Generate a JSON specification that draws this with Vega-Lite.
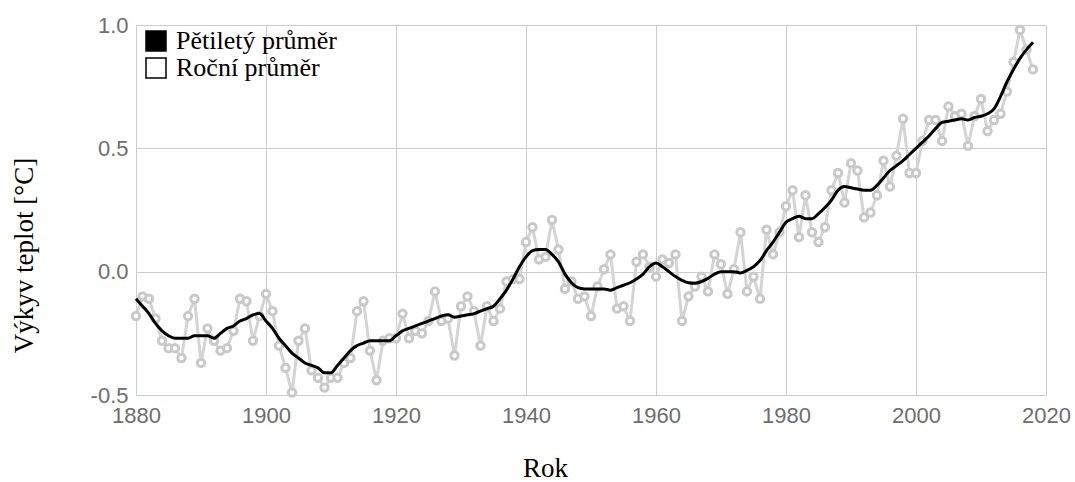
{
  "$schema": "https://vega.github.io/schema/vega-lite/v6.json",
  "autosize": {"type": "none"},
  "width": 910,
  "height": 370,
  "padding": {"left": 136, "top": 25, "right": 29, "bottom": 87},
  "background": "#ffffff",
  "config": {
    "view": {"stroke": null},
    "axis": {
      "grid": true,
      "gridColor": "#cccccc",
      "gridWidth": 1,
      "domain": false,
      "ticks": false,
      "labelFont": "Liberation Sans",
      "labelFontSize": 22,
      "labelColor": "#6e6e6e",
      "titleFont": "Liberation Serif",
      "titleFontSize": 27,
      "titleFontWeight": "normal",
      "titleColor": "#000000"
    }
  },
  "datasets": {
    "annual": [
      {"year": 1880, "value": -0.18}, {"year": 1881, "value": -0.10}, {"year": 1882, "value": -0.11}, {"year": 1883, "value": -0.19},
      {"year": 1884, "value": -0.28}, {"year": 1885, "value": -0.31}, {"year": 1886, "value": -0.31}, {"year": 1887, "value": -0.35},
      {"year": 1888, "value": -0.18}, {"year": 1889, "value": -0.11}, {"year": 1890, "value": -0.37}, {"year": 1891, "value": -0.23},
      {"year": 1892, "value": -0.28}, {"year": 1893, "value": -0.32}, {"year": 1894, "value": -0.31}, {"year": 1895, "value": -0.24},
      {"year": 1896, "value": -0.11}, {"year": 1897, "value": -0.12}, {"year": 1898, "value": -0.28}, {"year": 1899, "value": -0.18},
      {"year": 1900, "value": -0.09}, {"year": 1901, "value": -0.16}, {"year": 1902, "value": -0.30}, {"year": 1903, "value": -0.39},
      {"year": 1904, "value": -0.49}, {"year": 1905, "value": -0.28}, {"year": 1906, "value": -0.23}, {"year": 1907, "value": -0.40},
      {"year": 1908, "value": -0.43}, {"year": 1909, "value": -0.47}, {"year": 1910, "value": -0.43}, {"year": 1911, "value": -0.43},
      {"year": 1912, "value": -0.37}, {"year": 1913, "value": -0.35}, {"year": 1914, "value": -0.16}, {"year": 1915, "value": -0.12},
      {"year": 1916, "value": -0.32}, {"year": 1917, "value": -0.44}, {"year": 1918, "value": -0.28}, {"year": 1919, "value": -0.27},
      {"year": 1920, "value": -0.27}, {"year": 1921, "value": -0.17}, {"year": 1922, "value": -0.27}, {"year": 1923, "value": -0.24},
      {"year": 1924, "value": -0.25}, {"year": 1925, "value": -0.20}, {"year": 1926, "value": -0.08}, {"year": 1927, "value": -0.20},
      {"year": 1928, "value": -0.19}, {"year": 1929, "value": -0.34}, {"year": 1930, "value": -0.14}, {"year": 1931, "value": -0.10},
      {"year": 1932, "value": -0.16}, {"year": 1933, "value": -0.30}, {"year": 1934, "value": -0.14}, {"year": 1935, "value": -0.20},
      {"year": 1936, "value": -0.15}, {"year": 1937, "value": -0.04}, {"year": 1938, "value": -0.03}, {"year": 1939, "value": -0.03},
      {"year": 1940, "value": 0.12}, {"year": 1941, "value": 0.18}, {"year": 1942, "value": 0.05}, {"year": 1943, "value": 0.06},
      {"year": 1944, "value": 0.21}, {"year": 1945, "value": 0.09}, {"year": 1946, "value": -0.07}, {"year": 1947, "value": -0.04},
      {"year": 1948, "value": -0.11}, {"year": 1949, "value": -0.10}, {"year": 1950, "value": -0.18}, {"year": 1951, "value": -0.06},
      {"year": 1952, "value": 0.01}, {"year": 1953, "value": 0.07}, {"year": 1954, "value": -0.15}, {"year": 1955, "value": -0.14},
      {"year": 1956, "value": -0.20}, {"year": 1957, "value": 0.04}, {"year": 1958, "value": 0.07}, {"year": 1959, "value": 0.02},
      {"year": 1960, "value": -0.02}, {"year": 1961, "value": 0.05}, {"year": 1962, "value": 0.035}, {"year": 1963, "value": 0.07},
      {"year": 1964, "value": -0.20}, {"year": 1965, "value": -0.10}, {"year": 1966, "value": -0.06}, {"year": 1967, "value": -0.02},
      {"year": 1968, "value": -0.08}, {"year": 1969, "value": 0.07}, {"year": 1970, "value": 0.03}, {"year": 1971, "value": -0.09},
      {"year": 1972, "value": 0.01}, {"year": 1973, "value": 0.16}, {"year": 1974, "value": -0.08}, {"year": 1975, "value": -0.02},
      {"year": 1976, "value": -0.11}, {"year": 1977, "value": 0.17}, {"year": 1978, "value": 0.07}, {"year": 1979, "value": 0.16},
      {"year": 1980, "value": 0.265}, {"year": 1981, "value": 0.33}, {"year": 1982, "value": 0.14}, {"year": 1983, "value": 0.31},
      {"year": 1984, "value": 0.16}, {"year": 1985, "value": 0.12}, {"year": 1986, "value": 0.18}, {"year": 1987, "value": 0.33},
      {"year": 1988, "value": 0.40}, {"year": 1989, "value": 0.28}, {"year": 1990, "value": 0.44}, {"year": 1991, "value": 0.41},
      {"year": 1992, "value": 0.22}, {"year": 1993, "value": 0.24}, {"year": 1994, "value": 0.31}, {"year": 1995, "value": 0.45},
      {"year": 1996, "value": 0.345}, {"year": 1997, "value": 0.47}, {"year": 1998, "value": 0.62}, {"year": 1999, "value": 0.40},
      {"year": 2000, "value": 0.40}, {"year": 2001, "value": 0.53}, {"year": 2002, "value": 0.615}, {"year": 2003, "value": 0.615},
      {"year": 2004, "value": 0.53}, {"year": 2005, "value": 0.67}, {"year": 2006, "value": 0.63}, {"year": 2007, "value": 0.64},
      {"year": 2008, "value": 0.51}, {"year": 2009, "value": 0.63}, {"year": 2010, "value": 0.70}, {"year": 2011, "value": 0.57},
      {"year": 2012, "value": 0.615}, {"year": 2013, "value": 0.64}, {"year": 2014, "value": 0.73}, {"year": 2015, "value": 0.85},
      {"year": 2016, "value": 0.98}, {"year": 2017, "value": 0.90}, {"year": 2018, "value": 0.82}
    ],
    "smooth": [
      {"year": 1880, "value": -0.11}, {"year": 1881, "value": -0.14}, {"year": 1882, "value": -0.17}, {"year": 1883, "value": -0.21},
      {"year": 1884, "value": -0.24}, {"year": 1885, "value": -0.26}, {"year": 1886, "value": -0.27}, {"year": 1887, "value": -0.27},
      {"year": 1888, "value": -0.27}, {"year": 1889, "value": -0.26}, {"year": 1890, "value": -0.26}, {"year": 1891, "value": -0.26},
      {"year": 1892, "value": -0.27}, {"year": 1893, "value": -0.25}, {"year": 1894, "value": -0.23}, {"year": 1895, "value": -0.22},
      {"year": 1896, "value": -0.20}, {"year": 1897, "value": -0.19}, {"year": 1898, "value": -0.175}, {"year": 1899, "value": -0.17},
      {"year": 1900, "value": -0.20}, {"year": 1901, "value": -0.23}, {"year": 1902, "value": -0.27}, {"year": 1903, "value": -0.30},
      {"year": 1904, "value": -0.33}, {"year": 1905, "value": -0.35}, {"year": 1906, "value": -0.37}, {"year": 1907, "value": -0.38},
      {"year": 1908, "value": -0.39}, {"year": 1909, "value": -0.41}, {"year": 1910, "value": -0.41}, {"year": 1911, "value": -0.38},
      {"year": 1912, "value": -0.35}, {"year": 1913, "value": -0.32}, {"year": 1914, "value": -0.30}, {"year": 1915, "value": -0.29},
      {"year": 1916, "value": -0.28}, {"year": 1917, "value": -0.28}, {"year": 1918, "value": -0.28}, {"year": 1919, "value": -0.28},
      {"year": 1920, "value": -0.26}, {"year": 1921, "value": -0.24}, {"year": 1922, "value": -0.23}, {"year": 1923, "value": -0.22},
      {"year": 1924, "value": -0.21}, {"year": 1925, "value": -0.20}, {"year": 1926, "value": -0.19}, {"year": 1927, "value": -0.18},
      {"year": 1928, "value": -0.175}, {"year": 1929, "value": -0.185}, {"year": 1930, "value": -0.18}, {"year": 1931, "value": -0.175},
      {"year": 1932, "value": -0.17}, {"year": 1933, "value": -0.16}, {"year": 1934, "value": -0.15}, {"year": 1935, "value": -0.14},
      {"year": 1936, "value": -0.11}, {"year": 1937, "value": -0.075}, {"year": 1938, "value": -0.03}, {"year": 1939, "value": 0.02},
      {"year": 1940, "value": 0.06}, {"year": 1941, "value": 0.085}, {"year": 1942, "value": 0.09}, {"year": 1943, "value": 0.09},
      {"year": 1944, "value": 0.07}, {"year": 1945, "value": 0.04}, {"year": 1946, "value": -0.01}, {"year": 1947, "value": -0.045},
      {"year": 1948, "value": -0.065}, {"year": 1949, "value": -0.07}, {"year": 1950, "value": -0.07}, {"year": 1951, "value": -0.07},
      {"year": 1952, "value": -0.07}, {"year": 1953, "value": -0.075}, {"year": 1954, "value": -0.065}, {"year": 1955, "value": -0.055},
      {"year": 1956, "value": -0.045}, {"year": 1957, "value": -0.03}, {"year": 1958, "value": -0.01}, {"year": 1959, "value": 0.02},
      {"year": 1960, "value": 0.035}, {"year": 1961, "value": 0.02}, {"year": 1962, "value": 0.0}, {"year": 1963, "value": -0.02},
      {"year": 1964, "value": -0.035}, {"year": 1965, "value": -0.045}, {"year": 1966, "value": -0.047}, {"year": 1967, "value": -0.04},
      {"year": 1968, "value": -0.027}, {"year": 1969, "value": -0.01}, {"year": 1970, "value": 0.0}, {"year": 1971, "value": 0.0},
      {"year": 1972, "value": 0.0}, {"year": 1973, "value": -0.005}, {"year": 1974, "value": 0.005}, {"year": 1975, "value": 0.02},
      {"year": 1976, "value": 0.045}, {"year": 1977, "value": 0.085}, {"year": 1978, "value": 0.12}, {"year": 1979, "value": 0.16},
      {"year": 1980, "value": 0.20}, {"year": 1981, "value": 0.215}, {"year": 1982, "value": 0.225}, {"year": 1983, "value": 0.215},
      {"year": 1984, "value": 0.215}, {"year": 1985, "value": 0.235}, {"year": 1986, "value": 0.26}, {"year": 1987, "value": 0.29},
      {"year": 1988, "value": 0.33}, {"year": 1989, "value": 0.345}, {"year": 1990, "value": 0.34}, {"year": 1991, "value": 0.335},
      {"year": 1992, "value": 0.33}, {"year": 1993, "value": 0.33}, {"year": 1994, "value": 0.35}, {"year": 1995, "value": 0.38},
      {"year": 1996, "value": 0.41}, {"year": 1997, "value": 0.43}, {"year": 1998, "value": 0.45}, {"year": 1999, "value": 0.475},
      {"year": 2000, "value": 0.50}, {"year": 2001, "value": 0.525}, {"year": 2002, "value": 0.55}, {"year": 2003, "value": 0.58},
      {"year": 2004, "value": 0.605}, {"year": 2005, "value": 0.61}, {"year": 2006, "value": 0.615}, {"year": 2007, "value": 0.62},
      {"year": 2008, "value": 0.615}, {"year": 2009, "value": 0.625}, {"year": 2010, "value": 0.63}, {"year": 2011, "value": 0.64},
      {"year": 2012, "value": 0.66}, {"year": 2013, "value": 0.71}, {"year": 2014, "value": 0.77}, {"year": 2015, "value": 0.82},
      {"year": 2016, "value": 0.865}, {"year": 2017, "value": 0.90}, {"year": 2018, "value": 0.93}
    ]
  },
  "encoding": {
    "x": {
      "field": "year",
      "type": "quantitative",
      "scale": {"domain": [1880, 2020], "nice": false, "zero": false},
      "axis": {
        "values": [1880, 1900, 1920, 1940, 1960, 1980, 2000, 2020],
        "format": "d",
        "labelPadding": 10,
        "labelFlush": false,
        "labelOverlap": false,
        "title": "Rok",
        "titleX": 409,
        "titleY": 81,
        "titleAlign": "center",
        "titleBaseline": "alphabetic"
      }
    },
    "y": {
      "field": "value",
      "type": "quantitative",
      "scale": {"domain": [-0.5, 1.0], "nice": false, "zero": false},
      "axis": {
        "values": [-0.5, 0, 0.5, 1.0],
        "labelExpr": "datum.value < 0 ? '-' + format(-datum.value, '.1f') : format(datum.value, '.1f')",
        "labelPadding": 8,
        "labelOverlap": false,
        "title": "Výkyv teplot [°C]",
        "titleAngle": -90,
        "titleX": -104,
        "titleY": 230,
        "titleAlign": "center",
        "titleBaseline": "alphabetic"
      }
    }
  },
  "layer": [
    {
      "data": {"name": "annual"},
      "mark": {"type": "line", "strokeWidth": 3, "interpolate": "linear", "stroke": "#d4d4d4"},
      "encoding": {}
    },
    {
      "data": {"name": "annual"},
      "mark": {"type": "point", "shape": "circle", "size": 55, "filled": true, "fill": "#ffffff", "fillOpacity": 1, "stroke": "#c9c9c9", "strokeWidth": 3, "opacity": 1}
    },
    {
      "data": {"name": "smooth"},
      "mark": {"type": "line", "strokeWidth": 3, "interpolate": "monotone"},
      "encoding": {
        "color": {
          "datum": "Pětiletý průměr",
          "type": "nominal",
          "scale": {"domain": ["Pětiletý průměr", "Roční průměr"], "range": ["#000000", "#000000"]},
          "legend": {
            "orient": "none",
            "legendX": 7,
            "legendY": 3,
            "title": null,
            "symbolType": "square",
            "symbolSize": 400,
            "symbolStrokeColor": "#000000",
            "labelFont": "Liberation Serif",
            "labelFontSize": 26,
            "labelColor": "#000000",
            "labelOffset": 7,
            "labelLimit": 400,
            "rowPadding": 1,
            "padding": 0,
            "encode": {
              "symbols": {
                "update": {
                  "shape": {"value": "square"},
                  "size": {"value": 400},
                  "fill": [{"test": "datum.value === 'Roční průměr'", "value": "#ffffff"}, {"value": "#000000"}],
                  "fillOpacity": {"value": 1},
                  "stroke": {"value": "#000000"},
                  "strokeOpacity": {"value": 1},
                  "strokeWidth": {"value": 1.5}
                }
              }
            }
          }
        }
      }
    }
  ]
}
